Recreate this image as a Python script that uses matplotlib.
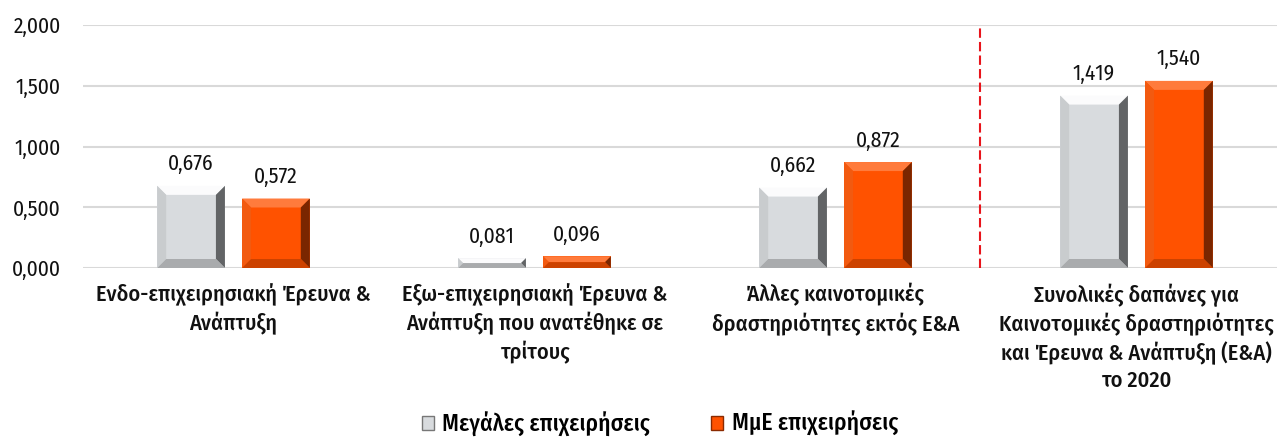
import matplotlib
matplotlib.use("Agg")
import matplotlib.pyplot as plt
from matplotlib.patches import Polygon
import numpy as np

plt.rcParams["font.family"] = ["Fira Sans Condensed", "Liberation Sans", "DejaVu Sans"]

categories = [
    "Ενδο-επιχειρησιακή Έρευνα &\nΑνάπτυξη",
    "Εξω-επιχειρησιακή Έρευνα &\nΑνάπτυξη που ανατέθηκε σε\nτρίτους",
    "Άλλες καινοτομικές\nδραστηριότητες εκτός Ε&Α",
    "Συνολικές δαπάνες για\nΚαινοτομικές δραστηριότητες\nκαι Έρευνα & Ανάπτυξη (Ε&Α)\nτο 2020",
]
large = [0.676, 0.081, 0.662, 1.419]
sme = [0.572, 0.096, 0.872, 1.540]
series_names = ["Μεγάλες επιχειρήσεις", "ΜμΕ επιχειρήσεις"]
yticks = [0.0, 0.5, 1.0, 1.5, 2.0]

GRAY = dict(face="#d8dbde", top="#fbfbfc", left="#c9ccce", right="#626466", bottom="#a9abad")
ORANGE = dict(face="#ff5200", top="#ff7b3c", left="#f25a10", right="#7a2600", bottom="#cc4200")


def fmt(v):
    return f"{v:.3f}".replace(".", ",")


def bevel(ax, bars, pal, b=9):
    # fake the bevelled 3D look with four trapezoids around each bar
    inv = ax.transData.inverted()
    for r in bars:
        (x0, y0), (x1, y1) = ax.transData.transform(
            [(r.get_x(), r.get_y()), (r.get_x() + r.get_width(), r.get_y() + r.get_height())])
        bb = min(b, (y1 - y0) / 2.0)
        faces = {
            "top": [(x0, y1), (x1, y1), (x1 - bb, y1 - bb), (x0 + bb, y1 - bb)],
            "left": [(x0, y0), (x0, y1), (x0 + bb, y1 - bb), (x0 + bb, y0 + bb)],
            "right": [(x1, y0), (x1, y1), (x1 - bb, y1 - bb), (x1 - bb, y0 + bb)],
            "bottom": [(x0, y0), (x1, y0), (x1 - bb, y0 + bb), (x0 + bb, y0 + bb)],
        }
        for k, pts in faces.items():
            ax.add_patch(Polygon(inv.transform(pts), closed=True, fc=pal[k],
                                 ec="none", zorder=3))


fig = plt.figure(figsize=(12.77, 4.37), dpi=100)
ax = fig.add_axes([83 / 1277, 169 / 437, (1287 - 83) / 1277, 243 / 437])

x = np.arange(len(categories))
w = 0.225
off = 0.141
ax.set_xlim(-0.5, 3.5)
ax.set_ylim(0, 2.0)

b1 = ax.bar(x - off, large, w, color=GRAY["face"], zorder=2, label=series_names[0])
b2 = ax.bar(x + off, sme, w, color=ORANGE["face"], zorder=2, label=series_names[1])
bevel(ax, b1, GRAY)
bevel(ax, b2, ORANGE)

for bars, vals in ((b1, large), (b2, sme)):
    for r, v in zip(bars, vals):
        ax.annotate(fmt(v), (r.get_x() + r.get_width() / 2, v), xytext=(0, 8),
                    textcoords="offset points", ha="center", va="bottom",
                    fontsize=15.5, color="#111111")

ax.set_yticks(yticks)
ax.set_yticklabels([fmt(t) for t in yticks], fontsize=15.5, color="#111111")
ax.yaxis.grid(True, color="#d9d9d9", lw=1.5)
ax.set_axisbelow(True)
ax.tick_params(axis="y", length=0, pad=16)
ax.tick_params(axis="x", length=0, pad=11)
ax.set_xticks(x)
ax.set_xticklabels(categories, fontsize=16, linespacing=1.32, color="#111111",
                   fontweight="medium")
for s in ax.spines.values():
    s.set_visible(False)

ax.plot([2.48, 2.48], [0, 2.0], color="#e8141b", lw=1.5, ls=(0, (4.5, 2)), zorder=1)

leg = fig.legend(handles=[b1, b2], labels=series_names, loc="center",
                 bbox_to_anchor=(660 / 1277, 1 - 424 / 437), ncol=2, frameon=False,
                 prop={"size": 17, "weight": "medium"}, handlelength=0.5,
                 handleheight=0.5, handletextpad=0.35, columnspacing=2.6)
leg.legend_handles[0].set_edgecolor("#777777")
leg.legend_handles[1].set_edgecolor("#8a2a00")

fig.savefig("out.png", dpi=100)
